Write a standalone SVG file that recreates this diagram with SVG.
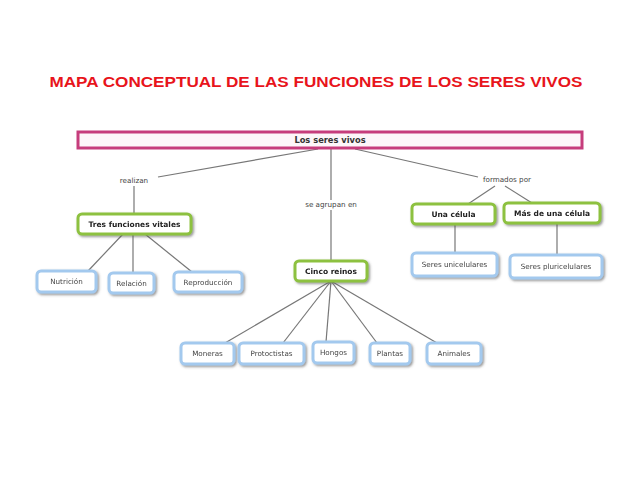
<svg xmlns="http://www.w3.org/2000/svg" width="638" height="493" viewBox="0 0 638 493">
<defs>
<filter id="sh" x="-20%" y="-30%" width="140%" height="170%">
<feDropShadow dx="1.5" dy="1.5" stdDeviation="0.8" flood-color="#555" flood-opacity="0.6"/>
</filter>
<style>
.title{font-family:"Liberation Sans",Arial,sans-serif;font-weight:bold;font-size:14.5px;fill:#e8141b}
.g rect{fill:#fff;stroke:#8dc13f;stroke-width:3}
.b rect{fill:#fff;stroke:#a3c9ee;stroke-width:3}
.g text{font-family:"DejaVu Sans",Verdana,sans-serif;font-weight:bold;font-size:7.5px;fill:#222;text-anchor:middle}
.b text{font-family:"DejaVu Sans",Verdana,sans-serif;font-size:7.2px;fill:#444;text-anchor:middle}
.lbl text{font-family:"DejaVu Sans",Verdana,sans-serif;font-size:7.2px;fill:#444;text-anchor:middle}
.c line{stroke:#777;stroke-width:1.2}
</style>
</defs>
<rect width="638" height="493" fill="#fff"/>
<text class="title" x="316" y="87" text-anchor="middle" textLength="533" lengthAdjust="spacingAndGlyphs">MAPA CONCEPTUAL DE LAS FUNCIONES DE LOS SERES VIVOS</text>

<g id="connectors" class="c">
<line x1="318" y1="149" x2="158" y2="177"/>
<line x1="331" y1="149" x2="331" y2="200"/>
<line x1="331" y1="210" x2="331" y2="261"/>
<line x1="355" y1="149" x2="478" y2="177"/>
<line x1="134" y1="186" x2="134" y2="214"/>
<line x1="495" y1="186" x2="468" y2="204"/>
<line x1="505" y1="186" x2="532" y2="203"/>
<line x1="455" y1="224" x2="455" y2="253"/>
<line x1="557" y1="223" x2="557" y2="255"/>
<line x1="123" y1="234" x2="88" y2="271"/>
<line x1="133" y1="234" x2="133" y2="273"/>
<line x1="145" y1="234" x2="192" y2="272"/>
<line x1="331" y1="281" x2="225" y2="343"/>
<line x1="331" y1="281" x2="283" y2="343"/>
<line x1="331" y1="281" x2="326" y2="342"/>
<line x1="331" y1="281" x2="377" y2="343"/>
<line x1="331" y1="281" x2="437" y2="343"/>
</g>

<g id="labels" class="lbl">
<text x="134" y="183">realizan</text>
<text x="331" y="207">se agrupan en</text>
<text x="507" y="182">formados por</text>
</g>

<g id="los-seres-vivos">
<rect x="78" y="132" width="504" height="16" fill="#fdf6f9" stroke="#c63d7c" stroke-width="3"/>
<text x="330" y="143" font-family="DejaVu Sans,Verdana,sans-serif" font-weight="bold" font-size="8.3" fill="#333" text-anchor="middle">Los seres vivos</text>
</g>

<g id="tres-funciones" class="g" filter="url(#sh)"><rect x="78" y="214" width="113" height="20" rx="4"/><text x="134.5" y="227">Tres funciones vitales</text></g>
<g id="nutricion" class="b" filter="url(#sh)"><rect x="37" y="271" width="59" height="21" rx="4"/><text x="66.5" y="284">Nutrición</text></g>
<g id="relacion" class="b" filter="url(#sh)"><rect x="109" y="273" width="45" height="20" rx="4"/><text x="131.5" y="286">Relación</text></g>
<g id="reproduccion" class="b" filter="url(#sh)"><rect x="174" y="272" width="68" height="20" rx="4"/><text x="208" y="285">Reproducción</text></g>

<g id="cinco-reinos" class="g" filter="url(#sh)"><rect x="295" y="261" width="72" height="20" rx="4"/><text x="331" y="274">Cinco reinos</text></g>

<g id="una-celula" class="g" filter="url(#sh)"><rect x="412" y="204" width="83" height="20" rx="4"/><text x="453.5" y="217">Una célula</text></g>
<g id="mas-de-una-celula" class="g" filter="url(#sh)"><rect x="504" y="203" width="96" height="20" rx="4"/><text x="552" y="216">Más de una célula</text></g>
<g id="seres-unicelulares" class="b" filter="url(#sh)"><rect x="412" y="253" width="85" height="23" rx="4"/><text x="454.5" y="267">Seres unicelulares</text></g>
<g id="seres-pluricelulares" class="b" filter="url(#sh)"><rect x="510" y="255" width="92" height="23" rx="4"/><text x="556" y="269">Seres pluricelulares</text></g>

<g id="moneras" class="b" filter="url(#sh)"><rect x="181" y="343" width="53" height="21" rx="4"/><text x="207.5" y="356">Moneras</text></g>
<g id="protoctistas" class="b" filter="url(#sh)"><rect x="239" y="343" width="65" height="21" rx="4"/><text x="271.5" y="356">Protoctistas</text></g>
<g id="hongos" class="b" filter="url(#sh)"><rect x="313" y="342" width="41" height="21" rx="4"/><text x="333.5" y="355">Hongos</text></g>
<g id="plantas" class="b" filter="url(#sh)"><rect x="370" y="343" width="40" height="21" rx="4"/><text x="390" y="356">Plantas</text></g>
<g id="animales" class="b" filter="url(#sh)"><rect x="427" y="343" width="54" height="21" rx="4"/><text x="454" y="356">Animales</text></g>
</svg>
